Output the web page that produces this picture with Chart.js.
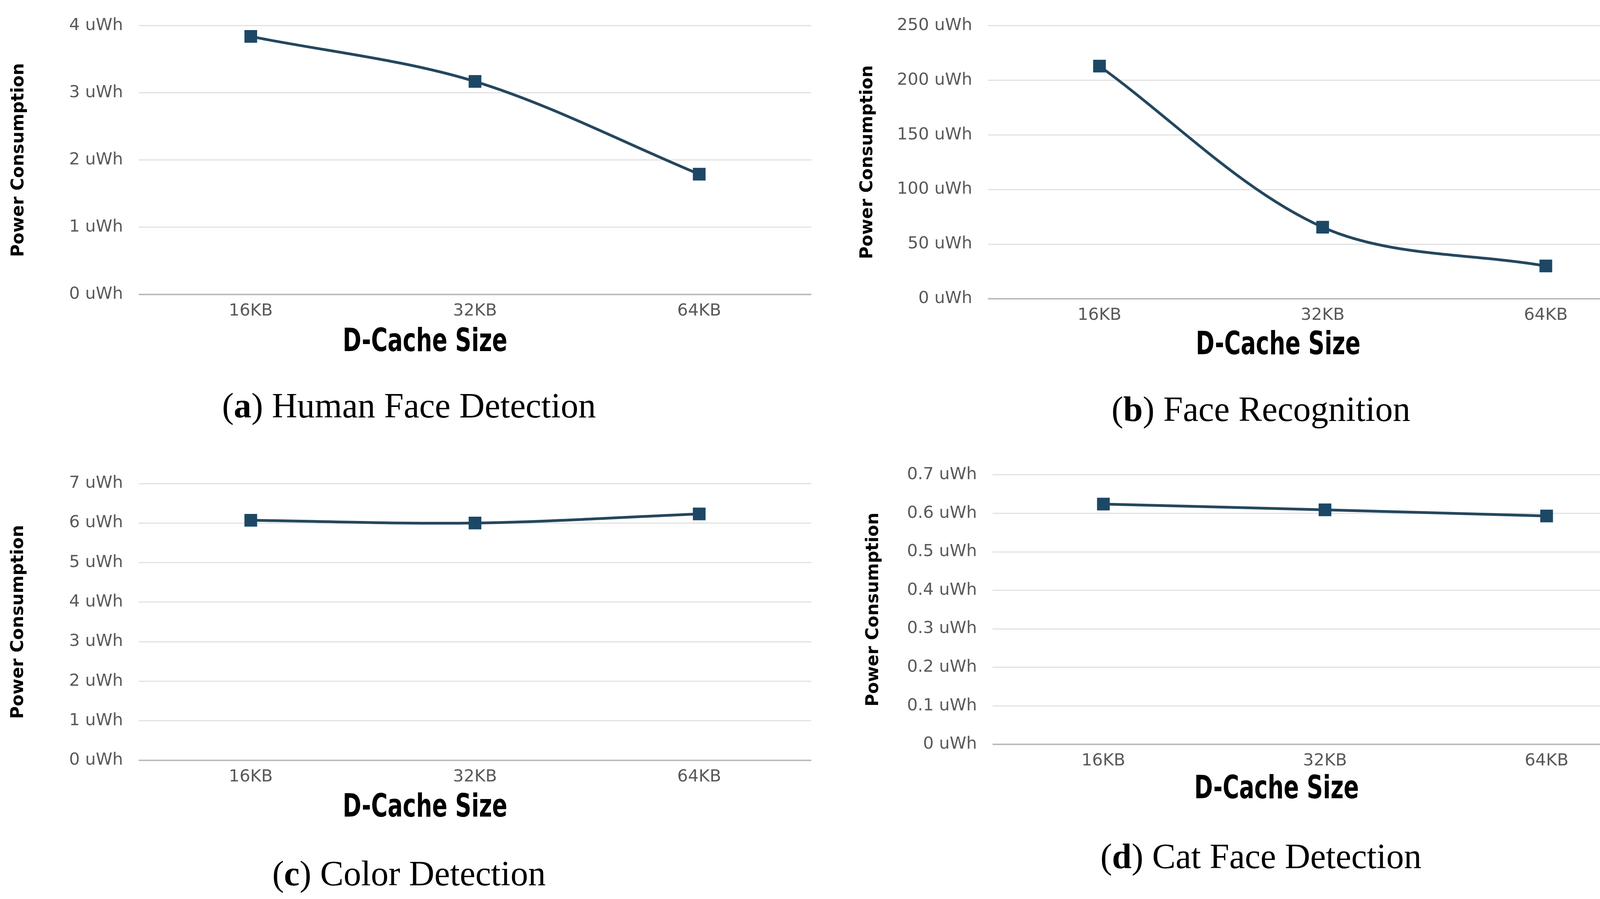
<!DOCTYPE html>
<html>
<head>
<meta charset="utf-8">
<script src="https://cdn.jsdelivr.net/npm/chart.js@4.4.1/dist/chart.umd.min.js"></script>
<style>
  html, body { margin: 0; padding: 0; background: #fff; }
  body { position: relative; width: 4266px; height: 2302px; overflow: hidden; }
  canvas { position: absolute; }
  .xtitle {
    position: absolute;
    transform: translate(-50%, -50%) scaleX(0.78);
    font-family: "Liberation Sans Narrow", "DejaVu Sans Condensed", sans-serif;
    font-weight: bold;
    font-size: 82px;
    line-height: 1;
    color: #000;
    white-space: nowrap;
  }
  .caption {
    position: absolute;
    transform: translate(-50%, -50%);
    font-family: "Liberation Serif", serif;
    font-size: 90px;
    line-height: 1;
    color: #000;
    white-space: nowrap;
  }
</style>
</head>
<body>
<canvas id="chartA" width="2100" height="850" style="left:0px;top:0px"></canvas>
<canvas id="chartB" width="2116" height="850" style="left:2150px;top:0px"></canvas>
<canvas id="chartC" width="2100" height="900" style="left:0px;top:1150px"></canvas>
<canvas id="chartD" width="2116" height="850" style="left:2150px;top:1150px"></canvas>

<div class="xtitle" style="left:1088px;top:871px">D-Cache Size</div>
<div class="xtitle" style="left:3272px;top:879px">D-Cache Size</div>
<div class="xtitle" style="left:1088px;top:2063px">D-Cache Size</div>
<div class="xtitle" style="left:3268px;top:2016px">D-Cache Size</div>

<div class="caption" style="left:1047px;top:1039px">(<b>a</b>) Human Face Detection</div>
<div class="caption" style="left:3228px;top:1048px">(<b>b</b>) Face Recognition</div>
<div class="caption" style="left:1047px;top:2237px">(<b>c</b>) Color Detection</div>
<div class="caption" style="left:3228px;top:2193px">(<b>d</b>) Cat Face Detection</div>

<script>
const cacheSizes = ["16KB", "32KB", "64KB"];

const humanFacePower = [3.84, 3.17, 1.79];
const faceRecognitionPower = [213, 65.5, 30];
const colorDetectionPower = [6.07, 6.0, 6.23];
const catFacePower = [0.624, 0.609, 0.593];

const ticksA = [0, 1, 2, 3, 4];
const ticksB = [0, 50, 100, 150, 200, 250];
const ticksC = [0, 1, 2, 3, 4, 5, 6, 7];
const ticksD = [0, 0.1, 0.2, 0.3, 0.4, 0.5, 0.6, 0.7];

const lineColor = "#24475e";
const markerColor = "#1c4866";

function makeChart(id, values, tickValues, layout) {
  const ctx = document.getElementById(id).getContext("2d");
  return new Chart(ctx, {
    type: "line",
    data: {
      labels: cacheSizes,
      datasets: [
        {
          label: "Power Consumption",
          data: values,
          borderColor: lineColor,
          borderWidth: 7,
          tension: 0.33,
          fill: false,
          pointStyle: "rect",
          pointRadius: 23,
          pointBackgroundColor: markerColor,
          pointBorderWidth: 0,
        },
      ],
    },
    options: {
      responsive: false,
      animation: false,
      devicePixelRatio: 1,
      layout: {
        padding: { top: layout.padTop, right: layout.padRight, left: 0, bottom: 0 },
      },
      plugins: {
        legend: { display: false },
        tooltip: { enabled: false },
      },
      scales: {
        x: {
          offset: true,
          afterFit: function (scale) {
            scale.height = layout.xHeight;
          },
          ticks: {
            padding: 17,
            color: "#595959",
            font: { family: "'DejaVu Sans', sans-serif", size: 43 },
          },
          grid: { display: false, drawTicks: false },
          border: { display: false },
        },
        y: {
          min: tickValues[0],
          max: tickValues[tickValues.length - 1],
          afterBuildTicks: function (scale) {
            scale.ticks = tickValues.map((v) => ({ value: v }));
          },
          afterFit: function (scale) {
            scale.width = layout.yWidth;
          },
          title: {
            display: true,
            text: "Power Consumption",
            color: "#000",
            padding: { top: layout.titlePad, bottom: 0 },
            font: { family: "'DejaVu Sans', sans-serif", size: 44, weight: "bold" },
          },
          ticks: {
            padding: 40,
            color: "#595959",
            font: { family: "'DejaVu Sans', sans-serif", size: 43 },
            callback: function (value) {
              return parseFloat(value.toFixed(1)) + " uWh";
            },
          },
          grid: {
            drawTicks: false,
            color: (c) => (c.tick && c.tick.value === 0 ? "#bdbdbd" : "#e2e2e2"),
            lineWidth: (c) => (c.tick && c.tick.value === 0 ? 4 : 3),
          },
          border: { display: false },
        },
      },
    },
  });
}

makeChart("chartA", humanFacePower, ticksA, { padTop: 49, padRight: 23, xHeight: 96, yWidth: 355, titlePad: 22 });
makeChart("chartB", faceRecognitionPower, ticksB, { padTop: 49, padRight: 4, xHeight: 85, yWidth: 379, titlePad: 45 });
makeChart("chartC", colorDetectionPower, ticksC, { padTop: 88, padRight: 19, xHeight: 103, yWidth: 355, titlePad: 21 });
makeChart("chartD", catFacePower, ticksD, { padTop: 54, padRight: 20, xHeight: 94, yWidth: 391, titlePad: 60 });
</script>
</body>
</html>
